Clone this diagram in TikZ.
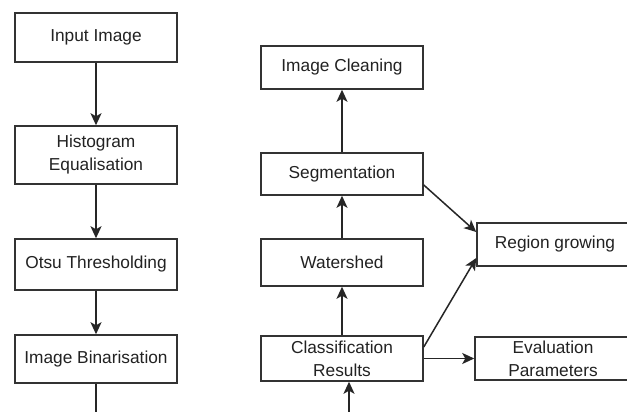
\documentclass[tikz,border=0pt]{standalone}
\usepackage{fontspec}
\setmainfont{Liberation Sans}
\usetikzlibrary{arrows.meta}
\definecolor{boxline}{HTML}{333333}
\definecolor{txt}{HTML}{222222}
\begin{document}
\begin{tikzpicture}[x=1pt,y=-1pt,
  box/.style={draw=boxline,line width=1.5pt,fill=white,text=txt,font=\fontsize{17.3}{23}\selectfont,
    align=center,inner sep=0pt,minimum width=162pt},
  arr/.style={draw=black!85,line width=1.5pt,-{Stealth[length=12pt,width=11pt,inset=3pt]}},
  ln/.style={draw=black!85,line width=1.5pt}]
\clip (0,0) rectangle (627,412);
\fill[white] (0,0) rectangle (627,412);
% left column
\node[box,minimum height=49pt] (inp) at (96,37.5) {Input Image};
\node[box,minimum height=58pt] (hist) at (96,155) {Histogram\\Equalisation};
\node[box,minimum height=51pt] (otsu) at (96,264.5) {Otsu Thresholding};
\node[box,minimum height=48pt] (bin) at (96,359) {Image Binarisation};
\coordinate (binout) at (96,420);
\draw[arr] (inp) -- (hist);
\draw[arr] (hist) -- (otsu);
\draw[arr] (otsu) -- (bin);
\draw[ln] (bin) -- (binout);
% right column
\node[box,minimum height=43pt] (clean) at (342,67.5) {Image Cleaning};
\node[box,minimum height=42pt] (seg) at (342,174) {Segmentation};
\node[box,minimum height=47pt] (water) at (342,262.5) {Watershed};
\node[box,minimum height=45pt] (cls) at (342,358.5) {Classification\\Results};
\node[box,minimum width=156pt,minimum height=43pt] (reg) at (555,244.5) {Region growing};
\node[box,minimum width=156pt,minimum height=43pt] (eval) at (553,358.5) {Evaluation\\Parameters};
\coordinate (clsin) at (349,420);
\draw[arr] (seg) -- (clean);
\draw[arr] (water) -- (seg);
\draw[arr] (cls) -- (water);
\draw[arr] (clsin) -- (clsin |- cls.south);
\draw[arr] (seg.east |- 0,185) -- (reg.west |- 0,232);
\draw[arr] (cls.east |- 0,347) -- (reg.west |- 0,258);
\draw[arr] (cls.east) -- (eval.west);
\end{tikzpicture}
\end{document}
